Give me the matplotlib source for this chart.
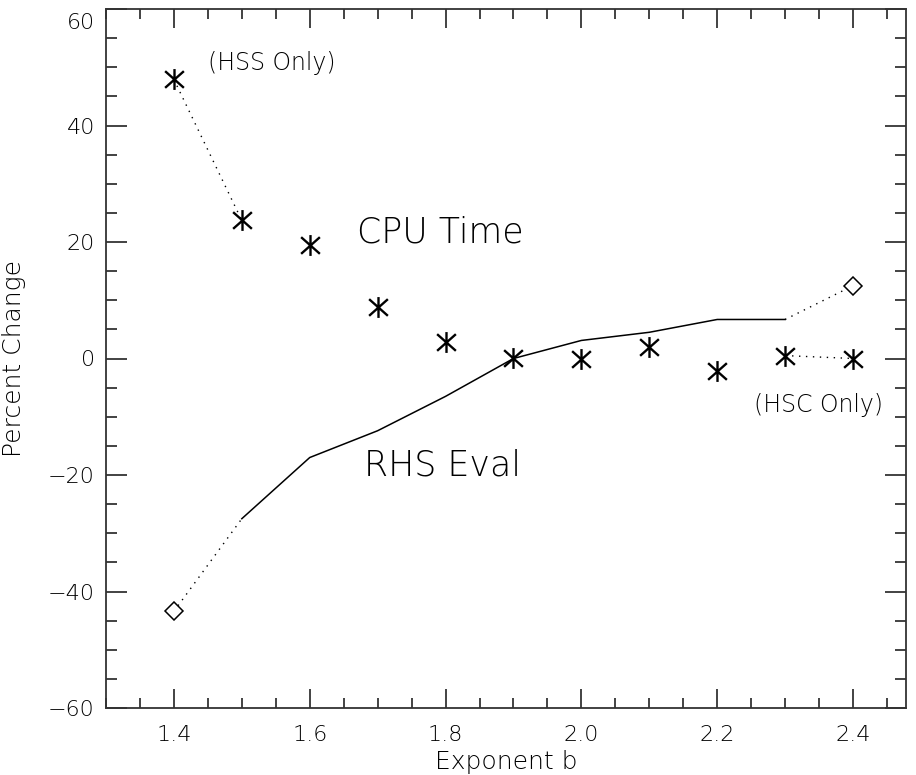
import numpy as np
import matplotlib as mpl
mpl.use('Agg')
import matplotlib.pyplot as plt
from matplotlib.ticker import MultipleLocator
from matplotlib.path import Path
import matplotlib.transforms as mtransforms

# exponent b values
b_cpu = [1.4, 1.5, 1.6, 1.7, 1.8, 1.9, 2.0, 2.1, 2.2, 2.3, 2.4]
cpu_change = [47.9, 23.7, 19.4, 8.9, 2.9, 0.1, 0.0, 1.9, -2.1, 0.5, 0.0]

b_rhs = [1.5, 1.6, 1.7, 1.8, 1.9, 2.0, 2.1, 2.2, 2.3]
rhs_change = [-27.5, -17.0, -12.4, -6.5, 0.0, 3.1, 4.5, 6.7, 6.7]

# end points only available with one of the two methods
b_rhs_ends = [1.4, 2.4]
rhs_ends = [-43.4, 12.5]

mpl.rcParams.update({'font.family': 'DejaVu Sans', 'font.size': 15,
                     'font.weight': 'light', 'axes.labelweight': 'light'})

# IDL style asterisk: vertical bar plus an X
star = Path([(0, -1), (0, 1), (-0.9, -0.8), (0.9, 0.8), (-0.9, 0.8), (0.9, -0.8)],
            [Path.MOVETO, Path.LINETO, Path.MOVETO, Path.LINETO, Path.MOVETO, Path.LINETO])

fig = plt.figure(figsize=(9.16, 7.75), dpi=100)
ax = fig.add_axes([106/916, 1 - 708/775, 800/916, 699/775])

dot = (0, (1, 4))
# cpu time: dotted links at both ends
ax.plot(b_cpu[:2], cpu_change[:2], color='black', lw=1, linestyle=dot)
ax.plot(b_cpu[-2:], cpu_change[-2:], color='black', lw=1, linestyle=dot)
ax.plot(b_cpu, cpu_change, linestyle='none', marker=star,
        markersize=15, markeredgewidth=1.7, color='black')

# rhs eval line with dotted extensions to the diamonds
ax.plot(b_rhs, rhs_change, color='black', lw=1.1)
ax.plot([b_rhs_ends[0], b_rhs[0]], [rhs_ends[0], rhs_change[0]], color='black', lw=1, linestyle=dot)
ax.plot([b_rhs[-1], b_rhs_ends[1]], [rhs_change[-1], rhs_ends[1]], color='black', lw=1, linestyle=dot)
ax.plot(b_rhs_ends, rhs_ends, linestyle='none', marker='D', markersize=9,
        markerfacecolor='white', markeredgecolor='black', markeredgewidth=1.1)

ax.text(1.45, 50.8, "(HSS Only)", fontsize=17, va='center', ha='left')
ax.text(1.67, 21.6, "CPU Time", fontsize=25, va='center', ha='left')
ax.text(1.68, -18.4, "RHS Eval", fontsize=25, va='center', ha='left')
ax.text(2.254, -7.9, "(HSC Only)", fontsize=17, va='center', ha='left')

ax.set_xlim(1.3, 2.478)
ax.set_ylim(-60, 60)
ax.xaxis.set_major_locator(MultipleLocator(0.2))
ax.xaxis.set_minor_locator(MultipleLocator(0.05))
ax.yaxis.set_major_locator(MultipleLocator(20))
ax.yaxis.set_minor_locator(MultipleLocator(5))
ax.xaxis.set_major_formatter(mpl.ticker.FormatStrFormatter('%.1f'))
ax.yaxis.set_major_formatter(mpl.ticker.FuncFormatter(lambda v, p: '%d' % v if v >= 0 else '\u2212%d' % -v))

ax.tick_params(which='both', direction='in', top=True, right=True, width=1.2, color='#222222')
ax.tick_params(axis='y', which='major', length=15, pad=8, labelsize=16)
ax.tick_params(axis='y', which='minor', length=8)
ax.tick_params(axis='x', which='major', length=14, pad=12, labelsize=16)
ax.tick_params(axis='x', which='minor', length=7)
for s in ax.spines.values():
    s.set_linewidth(1.3)
    s.set_color('#333333')

ax.set_xlabel("Exponent b", fontsize=18, labelpad=4, fontweight='light')
ax.set_ylabel("Percent Change", fontsize=18, labelpad=16, fontweight='light')

# top label sits just under the frame like the original
fig.canvas.draw()
for lab in ax.get_yticklabels():
    if lab.get_text() == '60':
        lab.set_transform(lab.get_transform() + mtransforms.ScaledTranslation(0, -12/100, fig.dpi_scale_trans))

plt.savefig("out.png", dpi=100)
plt.close(fig)
